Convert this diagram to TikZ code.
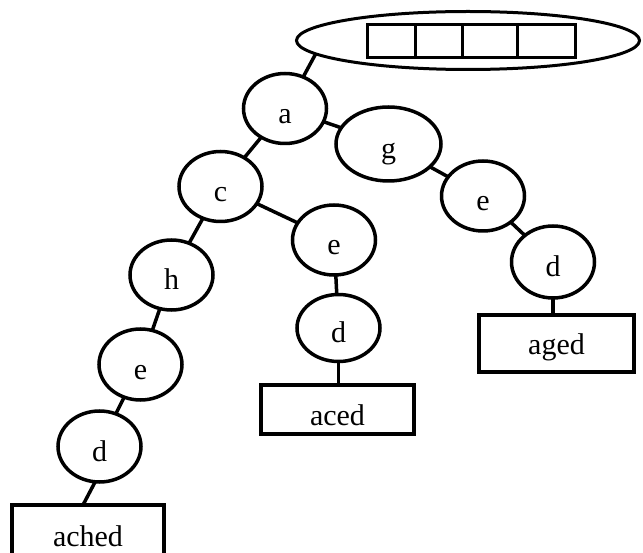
\documentclass[tikz,border=0pt]{standalone}
\usepackage{fontspec}
\setmainfont{Liberation Serif}
\usetikzlibrary{shapes.geometric,calc}
\begin{document}
\begin{tikzpicture}[x=1pt,y=-1pt,
  letter/.style={ellipse,draw,line width=3.5pt,inner sep=0pt,outer sep=0pt,
    minimum width=83pt,minimum height=70pt,text height=30pt,text depth=0pt,
    font=\fontsize{30}{36}\selectfont},
  word/.style={rectangle,draw,line width=4pt,inner sep=0pt,outer sep=0pt,
    text height=31pt,text depth=0pt,font=\fontsize{30}{36}\selectfont},
  cell/.style={rectangle,draw,line width=3pt,inner sep=0pt,outer sep=0pt,
    minimum height=33pt},
  link/.style={line width=3.5pt}]
\clip (0,0) rectangle (643,553);
\fill[white] (0,0) rectangle (643,553);

% head of the trie: an oval holding a row of four slots
\node[ellipse,draw,line width=3pt,inner sep=0pt,outer sep=0pt,
  minimum width=343pt,minimum height=58pt] (root) at (468,40.5) {};
\node[cell,minimum width=47.5pt] (cell1) at (391.25,41) {};
\node[cell,minimum width=47pt]   (cell2) at (438.5,41) {};
\node[cell,minimum width=55pt]   (cell3) at (489.5,41) {};
\node[cell,minimum width=58.5pt] (cell4) at (546.25,41) {};

% letter nodes
\node[letter] (a)  at (285,108.5) {a};
\node[letter,minimum width=105pt,minimum height=74pt] (g) at (388.5,144) {g};
\node[letter] (c)  at (220.5,186.5) {c};
\node[letter] (eM) at (334,240) {e};
\node[letter] (h)  at (171.5,275) {h};
\node[letter,minimum height=67pt] (dM) at (338.5,328) {d};
\node[letter] (eR) at (483,196) {e};
\node[letter,minimum height=72pt] (dR) at (553,262) {d};
\node[letter,minimum height=71pt] (eL) at (140.5,364.5) {e};
\node[letter,minimum height=71pt] (dL) at (99.5,446.5) {d};

% stored words
\node[word,minimum width=153pt,minimum height=49pt] (aced) at (337.5,409.5) {aced};
\node[word,minimum width=155pt,minimum height=57pt,text height=23pt] (aged) at (556.5,343.5) {aged};
\node[word,minimum width=152pt,minimum height=55pt,text height=27pt] (ached) at (88,532.5) {ached};

% links
\draw[link] (a.60) -- (root.185);
\draw[link] (a) -- (g);
\draw[link] (a) -- (c);
\draw[link] (g) -- (eR);
\draw[link] (eR) -- (dR);
\draw[link] (c) -- (eM);
\draw[link] (eM) -- (dM);
\draw[link] (c) -- (h);
\draw[link] (h) -- (eL);
\draw[link] (eL) -- (dL);
\draw[link] (dR.south) -- (dR.south |- aged.north);
\draw[link] (dM.south) -- (dM.south |- aced.north);
\coordinate (achedtap) at ($(ached.north west)+(71,0)$);
\draw[link] (dL.263) -- (achedtap);
\end{tikzpicture}
\end{document}
